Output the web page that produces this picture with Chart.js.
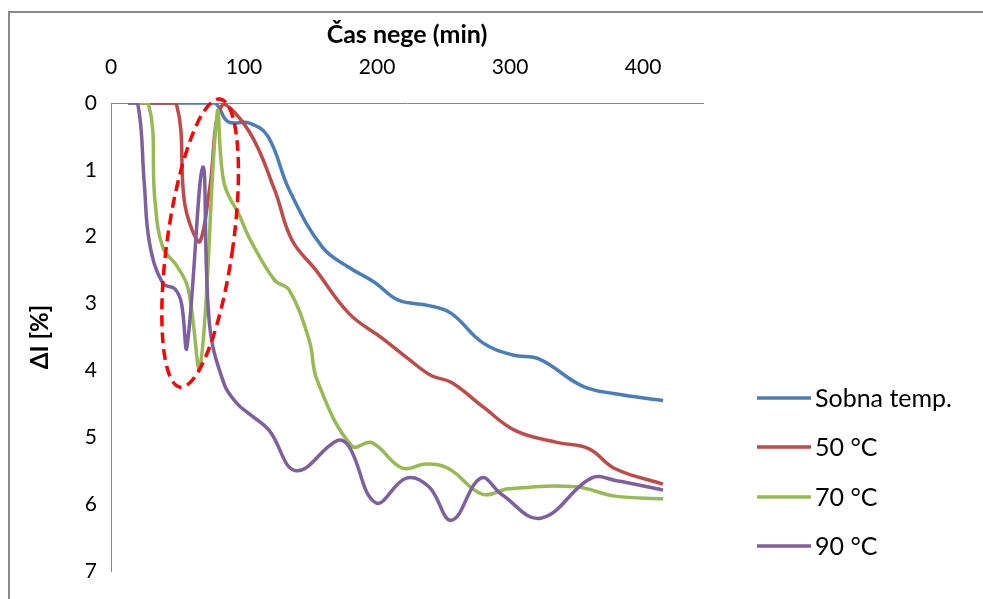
<!DOCTYPE html>
<html>
<head>
<meta charset="utf-8">
<script src="https://cdn.jsdelivr.net/npm/chart.js@4.4.1/dist/chart.umd.min.js"></script>
<style>
  html, body { margin: 0; padding: 0; background: #ffffff; }
  canvas { display: block; }
</style>
</head>
<body>
<canvas id="chart" width="983" height="599"></canvas>
<script>
// Series labels and colours
const seriesNames = ['Sobna temp.', '50 °C', '70 °C', '90 °C'];
const seriesColors = ['#4A7EBB', '#BE4B48', '#98B954', '#7D60A0'];

// Čas nege (min) and ΔI [%] for each series
const sobnaX = [13, 40, 60, 78, 88, 104, 118, 134, 159, 179, 198, 216, 239, 256, 279, 302, 322, 354, 379, 415];
const sobnaY = [0, 0, 0, 0, 0.28, 0.3, 0.5, 1.3, 2.16, 2.46, 2.68, 2.95, 3.03, 3.15, 3.58, 3.77, 3.83, 4.23, 4.35, 4.45];

const t50X = [13, 35, 49, 55, 61, 67, 74, 84, 104, 123, 136, 154, 179, 204, 225, 241, 256, 280, 304, 336, 359, 379, 415];
const t50Y = [0, 0, 0, 1.45, 1.9, 2.07, 1.3, 0.02, 0.43, 1.3, 2.05, 2.5, 3.15, 3.52, 3.85, 4.08, 4.18, 4.55, 4.9, 5.08, 5.17, 5.47, 5.7];

const t70X = [13, 28, 33, 39, 50, 58, 67, 80, 85, 97, 104, 123, 134, 149, 155, 181, 196, 219, 237, 254, 279, 299, 349, 379, 415];
const t70Y = [0, 0, 1.45, 2.16, 2.45, 2.78, 3.95, 0.12, 1.2, 1.7, 2.02, 2.65, 2.8, 3.55, 4.15, 5.13, 5.08, 5.46, 5.4, 5.47, 5.85, 5.77, 5.74, 5.88, 5.92];

const t90X = [13, 20, 25, 29, 39, 48, 53, 57, 69, 74, 85, 95, 104, 119, 139, 170, 179, 199, 222, 239, 256, 278, 294, 323, 361, 380, 415];
const t90Y = [0, 0, 1.2, 2.1, 2.7, 2.78, 3.0, 3.66, 0.96, 3.3, 4.2, 4.5, 4.65, 4.9, 5.5, 5.05, 5.14, 5.98, 5.61, 5.74, 6.24, 5.61, 5.86, 6.21, 5.61, 5.65, 5.79];

// Axis tick values
const xTicks = [0, 100, 200, 300, 400];
const yTicks = [0, 1, 2, 3, 4, 5, 6, 7];

// Highlighted region (dashed ellipse) in data units: ends of its long axis
const highlightEnds = [[82, -0.06], [52, 4.25]];
const highlightHalfWidth = 33; // px

const FONT = 'Lato, "Noto Sans", sans-serif';

const toPoints = (xs, ys) => xs.map((x, i) => ({ x: x, y: ys[i] }));
const seriesData = [
  toPoints(sobnaX, sobnaY),
  toPoints(t50X, t50Y),
  toPoints(t70X, t70Y),
  toPoints(t90X, t90Y)
];

const datasets = seriesNames.map((name, i) => ({
  label: name,
  data: seriesData[i],
  borderColor: seriesColors[i],
  backgroundColor: seriesColors[i],
  borderWidth: 3.5,
  pointRadius: 0,
  pointHoverRadius: 0,
  showLine: true,
  tension: 0.4,
  fill: false,
  order: seriesNames.length - i
}));

// Outer chart frame
const framePlugin = {
  id: 'frame',
  beforeDraw(chart) {
    const ctx = chart.ctx;
    ctx.save();
    ctx.fillStyle = '#ffffff';
    ctx.fillRect(0, 0, chart.width, chart.height);
    ctx.strokeStyle = '#8a8a8a';
    ctx.lineWidth = 2;
    ctx.strokeRect(9, 12, chart.width + 20, chart.height + 20);
    ctx.restore();
  }
};

// Dashed ellipse around the early dips
const highlightPlugin = {
  id: 'highlight',
  afterDatasetsDraw(chart) {
    const { ctx, scales: { x, y } } = chart;
    const p1 = [x.getPixelForValue(highlightEnds[0][0]), y.getPixelForValue(highlightEnds[0][1])];
    const p2 = [x.getPixelForValue(highlightEnds[1][0]), y.getPixelForValue(highlightEnds[1][1])];
    const cx = (p1[0] + p2[0]) / 2, cy = (p1[1] + p2[1]) / 2;
    const dx = p2[0] - p1[0], dy = p2[1] - p1[1];
    const half = Math.sqrt(dx * dx + dy * dy) / 2;
    const rot = Math.atan2(dy, dx) - Math.PI / 2;
    ctx.save();
    ctx.strokeStyle = '#ff0000';
    ctx.lineWidth = 3.5;
    ctx.setLineDash([11, 6]);
    ctx.beginPath();
    ctx.ellipse(cx, cy, highlightHalfWidth, half, rot, 0, Math.PI * 2);
    ctx.stroke();
    ctx.restore();
  }
};

// Legend on the right
const legendPlugin = {
  id: 'sideLegend',
  afterDraw(chart) {
    const ctx = chart.ctx;
    const x0 = 757, x1 = 811, tx = 815;
    const rows = [398, 447, 497, 546];
    ctx.save();
    ctx.font = '25px ' + FONT;
    ctx.textBaseline = 'middle';
    ctx.textAlign = 'left';
    seriesNames.forEach((name, i) => {
      ctx.strokeStyle = seriesColors[i];
      ctx.lineWidth = 3.5;
      ctx.beginPath();
      ctx.moveTo(x0, rows[i]);
      ctx.lineTo(x1, rows[i]);
      ctx.stroke();
      ctx.fillStyle = '#000000';
      ctx.fillText(name, tx, rows[i] + 1);
    });
    ctx.restore();
  }
};

new Chart(document.getElementById('chart'), {
  type: 'scatter',
  data: { datasets: datasets },
  options: {
    responsive: false,
    animation: false,
    events: [],
    layout: { padding: { left: 0, top: 0, right: 280, bottom: 28 } },
    plugins: {
      legend: { display: false },
      tooltip: { enabled: false }
    },
    scales: {
      x: {
        type: 'linear',
        position: 'top',
        min: 0,
        max: 445,
        afterBuildTicks: s => { s.ticks = xTicks.map(v => ({ value: v })); },
        afterFit: s => { s.height = 103; },
        ticks: {
          color: '#000000',
          font: { family: FONT, size: 21 },
          padding: 23,
          maxRotation: 0
        },
        grid: { display: true, drawOnChartArea: false, drawTicks: false },
        border: { display: true, color: '#888888', width: 1 },
        title: {
          display: true,
          text: 'Čas nege (min)',
          color: '#000000',
          font: { family: FONT, size: 25, weight: 'bold' },
          padding: { top: 20, bottom: 0 }
        }
      },
      y: {
        type: 'linear',
        reverse: true,
        min: 0,
        max: 7,
        afterBuildTicks: s => { s.ticks = yTicks.map(v => ({ value: v })); },
        afterFit: s => { s.width = 111; },
        ticks: {
          color: '#000000',
          font: { family: FONT, size: 21 },
          padding: 14
        },
        grid: { display: true, drawOnChartArea: false, drawTicks: false },
        border: { display: true, color: '#888888', width: 1 },
        title: {
          display: true,
          text: 'ΔI [%]',
          color: '#000000',
          font: { family: FONT, size: 24, weight: 'bold' },
          padding: { top: 26, bottom: 0 }
        }
      }
    }
  },
  plugins: [framePlugin, highlightPlugin, legendPlugin]
});
</script>
</body>
</html>
